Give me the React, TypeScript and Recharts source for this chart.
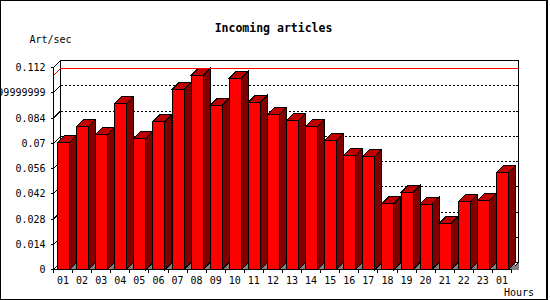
import React from 'react';
import { ComposedChart, Bar, XAxis, YAxis, CartesianGrid, ReferenceArea, ReferenceLine } from 'recharts';

// ---- data ----
const hours = ['01', '02', '03', '04', '05', '06', '07', '08', '09', '10', '11', '12', '13', '14', '15', '16', '17', '18', '19', '20', '21', '22', '23', '01'];
const rates = [0.0705, 0.0794, 0.0749, 0.0921, 0.0727, 0.0821, 0.0999, 0.1077, 0.0910, 0.1060, 0.0927, 0.0860, 0.0827, 0.0794, 0.0716, 0.0633, 0.0627, 0.0366, 0.0427, 0.0362, 0.0257, 0.0377, 0.0383, 0.0538];
const yTicks = [0, 0.014, 0.028, 0.042, 0.056, 0.07, 0.084, 0.09799999999999999, 0.112];
const title = 'Incoming articles';
const yUnit = 'Art/sec';
const xUnit = 'Hours';

const rows = hours.map((h, i) => ({ hour: h, rate: rates[i] }));
const maxRate = Math.max(...rates);

const DEPTH = 7;
const MONO = '"DejaVu Sans Mono", "Liberation Mono", monospace';

function Bar3D(p: any) {
  const { x, y, width: w, height: h } = p;
  if (w == null || h == null) return null;
  const d = DEPTH;
  const xr = x + w;
  const yb = y + h;
  return (
    <g shapeRendering="crispEdges" stroke="#000" strokeWidth={1}>
      <polygon points={`${xr},${yb} ${xr + d},${yb - d} ${xr + d},${yb}`} fill="#808080" stroke="none" />
      <polygon points={`${xr},${y} ${xr + d},${y - d} ${xr + d},${yb - d} ${xr},${yb}`} fill="#800000" />
      <polygon points={`${x},${y} ${x + d},${y - d} ${xr + d},${y - d} ${xr},${y}`} fill="#c00000" />
      <rect x={x} y={y} width={w} height={h} fill="#ff0000" />
    </g>
  );
}

function Frame(p: any) {
  const { x, y, width: w, height: h } = p;
  const d = DEPTH;
  const yb = y + h;
  const xr = x + w;
  return (
    <g shapeRendering="crispEdges" stroke="#000" strokeWidth={1} fill="none">
      <rect x={x + d} y={y - d} width={w} height={h} />
      <line x1={x} y1={y} x2={x + d} y2={y - d} />
      <polygon points={`${xr},${yb} ${xr + d},${yb - d} ${xr + d},${yb}`} fill="#808080" stroke="none" />
      <line x1={xr} y1={yb} x2={xr + d} y2={yb - d} />
    </g>
  );
}

function gridLine(p: any) {
  const { x1, x2, y1, index } = p;
  const d = DEPTH;
  return (
    <g key={p.key ?? `g${index}`} shapeRendering="crispEdges" stroke="#000" strokeWidth={1}>
      <line x1={x1} y1={y1} x2={x1 + d} y2={y1 - d} />
      <line x1={x1 + d} y1={y1 - d} x2={x2 + d} y2={y1 - d} strokeDasharray="2 2" />
      <line x1={x2 + d - 3} y1={y1 - d} x2={x2 + d} y2={y1 - d} />
    </g>
  );
}

function maxLine(p: any) {
  const { x1, y1, x2 } = p;
  const d = DEPTH;
  return (
    <g stroke="#ff0000" strokeWidth={1} shapeRendering="crispEdges">
      <line x1={x1} y1={y1} x2={x1 + d} y2={y1 - d} />
      <line x1={x1 + d} y1={y1 - d} x2={x2 + d} y2={y1 - d} />
    </g>
  );
}

function XTick(p: any) {
  const { x, y, payload, index, visibleTicksCount } = p;
  const half = payload && payload.offset ? payload.offset : 9.54;
  const last = index === visibleTicksCount - 1;
  return (
    <g>
      <line x1={x - half} y1={y} x2={x - half} y2={y + 3} stroke="#000" shapeRendering="crispEdges" />
      {last && <line x1={x + half} y1={y} x2={x + half} y2={y + 3} stroke="#000" shapeRendering="crispEdges" />}
      <text x={x} y={y + 14} textAnchor="middle" fontFamily={MONO} fontSize={10} fill="#000">
        {payload.value}
      </text>
    </g>
  );
}

function YTick(p: any) {
  const { x, y, payload } = p;
  return (
    <text x={x} y={y + 3.6} textAnchor="end" fontFamily={MONO} fontSize={10} fill="#000">
      {String(payload.value)}
    </text>
  );
}

export default function App() {
  return (
    <div style={{ position: 'absolute', left: 0, top: 0, width: 550, height: 300, background: '#fff' }}>
      <ComposedChart
        width={550}
        height={300}
        data={rows}
        margin={{ top: 67.5, right: 38.5, bottom: 0, left: 0 }}
        barCategoryGap="18.5%"
      >
        <rect x={0.5} y={0.5} width={547} height={299} fill="none" stroke="#000" shapeRendering="crispEdges" />
        <line x1={546.5} y1={0} x2={546.5} y2={300} stroke="#000" shapeRendering="crispEdges" />
        <text x={273.5} y={31.5} textAnchor="middle" fontFamily={MONO} fontWeight="bold" fontSize={11.5} fill="#000">
          {title}
        </text>
        <text x={29.5} y={42.5} fontFamily={MONO} fontSize={10} fill="#000">
          {yUnit}
        </text>
        <text x={504} y={295.5} fontFamily={MONO} fontSize={10} fill="#000">
          {xUnit}
        </text>
        <CartesianGrid vertical={false} horizontal={gridLine} />
        <ReferenceArea y1={0} y2={0.112} shape={Frame} ifOverflow="visible" />
        <XAxis
          dataKey="hour"
          height={30.5}
          interval={0}
          tickSize={0}
          tickMargin={0}
          tickLine={false}
          axisLine={{ stroke: '#000', shapeRendering: 'crispEdges' }}
          tick={<XTick />}
          allowDuplicatedCategory={true}
        />
        <YAxis
          width={53.5}
          domain={[0, 0.112]}
          ticks={yTicks}
          interval={0}
          tickSize={3}
          tickMargin={5}
          tickLine={{ stroke: '#000', shapeRendering: 'crispEdges' }}
          axisLine={{ stroke: '#000', shapeRendering: 'crispEdges' }}
          tick={<YTick />}
        />
        <Bar dataKey="rate" barSize={12} shape={Bar3D} isAnimationActive={false} />
        <ReferenceLine y={maxRate} shape={maxLine} ifOverflow="visible" />
      </ComposedChart>
    </div>
  );
}
